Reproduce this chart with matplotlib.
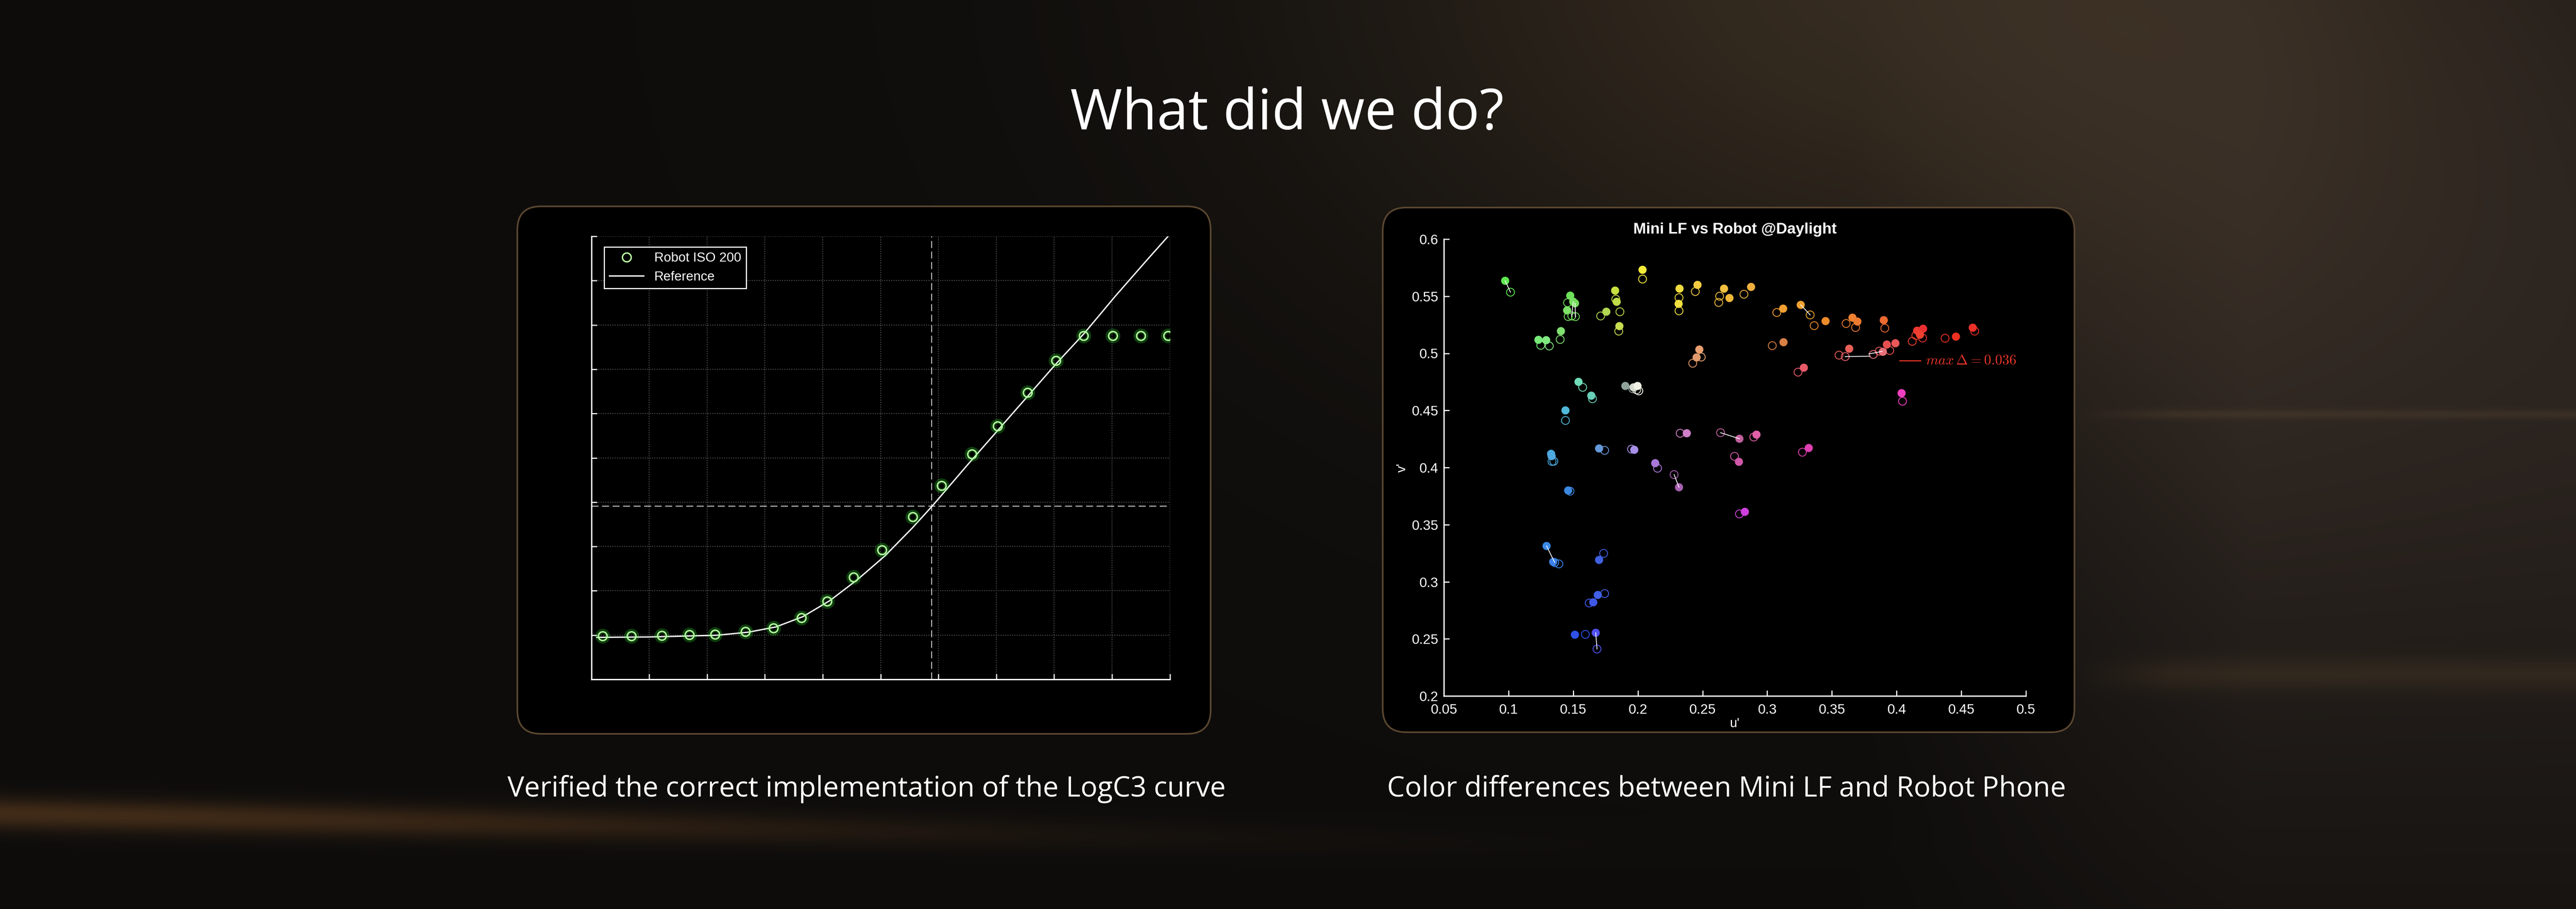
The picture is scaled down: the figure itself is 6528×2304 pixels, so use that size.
import numpy as np
import matplotlib
matplotlib.use("Agg")
from matplotlib import pyplot as plt
from matplotlib.patches import FancyBboxPatch
from matplotlib.lines import Line2D

plt.rcParams["font.family"] = ["Liberation Sans", "DejaVu Sans"]
plt.rcParams["mathtext.fontset"] = "cm"

# ---- left chart: LogC3 check (no tick labels in the original) ----
logc_x = [0.196, 0.689, 1.214, 1.691, 2.138, 2.662, 3.148, 3.633, 4.072, 4.534, 5.020,
          5.552, 6.053, 6.578, 7.024, 7.541, 8.034, 8.512, 9.013, 9.499, 9.969]
logc_y = [0.981, 0.981, 0.988, 1.004, 1.019, 1.074, 1.160, 1.385, 1.767, 2.304, 2.918,
          3.665, 4.374, 5.082, 5.720, 6.475, 7.198, 7.759, 7.759, 7.759, 7.759]
ref_x = [0.094, 0.995, 2.169, 2.717, 3.187, 3.657, 4.127, 4.597, 5.067, 5.536,
         5.889, 6.476, 7.024, 7.651, 8.042, 8.512, 9.060, 9.608, 9.969]
ref_y = [0.949, 0.957, 0.996, 1.066, 1.183, 1.416, 1.782, 2.249, 2.778, 3.401,
         3.907, 4.802, 5.619, 6.553, 7.136, 7.798, 8.654, 9.471, 10.0]
mid_x = 5.88
mid_y = 3.91

# ---- right chart: u'v' pairs (filled = one camera, open = the other) ----
filled_u = [0.0974, 0.1477, 0.1500, 0.1514, 0.1453, 0.1231, 0.1291, 0.1405,
            0.1824, 0.1836, 0.1756, 0.1857,
            0.2036, 0.2322, 0.2315, 0.2461, 0.2666, 0.2708, 0.2875,
            0.3259, 0.3123, 0.3451, 0.3659, 0.3697, 0.3901,
            0.4159, 0.4205, 0.4181, 0.4459, 0.4589,
            0.3126, 0.2475, 0.2454,
            0.3634, 0.3925, 0.3991, 0.3894, 0.3283, 0.4039,
            0.1903, 0.1966, 0.1997,
            0.1541, 0.1640, 0.1440, 0.1329, 0.1333, 0.1461, 0.1700, 0.1972,
            0.2134, 0.2318, 0.2378, 0.2785, 0.2917, 0.2781, 0.3321, 0.2827,
            0.1294, 0.1345, 0.1700, 0.1690, 0.1655, 0.1513, 0.1674]
filled_v = [0.5635, 0.5505, 0.5452, 0.5438, 0.5376, 0.5118, 0.5115, 0.5194,
            0.5549, 0.5451, 0.5364, 0.5238,
            0.5731, 0.5566, 0.5433, 0.5599, 0.5566, 0.5484, 0.5581,
            0.5424, 0.5391, 0.5282, 0.5312, 0.5278, 0.5290,
            0.5198, 0.5215, 0.5163, 0.5146, 0.5224,
            0.5097, 0.5033, 0.4964,
            0.5040, 0.5077, 0.5088, 0.5013, 0.4874, 0.4651,
            0.4714, 0.4702, 0.4714,
            0.4750, 0.4629, 0.4500, 0.4120, 0.4100, 0.3799, 0.4167, 0.4155,
            0.4038, 0.3827, 0.4300, 0.4252, 0.4288, 0.4050, 0.4171, 0.3612,
            0.3313, 0.3174, 0.3191, 0.2884, 0.2820, 0.2536, 0.2553]
open_u = [0.1015, 0.1456, 0.1489, 0.1517, 0.1461, 0.1249, 0.1315, 0.1399,
          0.1829, 0.1861, 0.1712, 0.1852,
          0.2036, 0.2318, 0.2318, 0.2444, 0.2632, 0.2625, 0.2820,
          0.3332, 0.3074, 0.3363, 0.3610, 0.3683, 0.3909,
          0.4149, 0.4201, 0.4121, 0.4375, 0.4604,
          0.3039, 0.2490, 0.2424,
          0.3555, 0.3947, 0.3866, 0.3820, 0.3238, 0.4046,
          0.1960, 0.1990, 0.2007,
          0.1573, 0.1649, 0.1440, 0.1336, 0.1350, 0.1475, 0.1743, 0.1951,
          0.2152, 0.2280, 0.2327, 0.2639, 0.2896, 0.2747, 0.3272, 0.2785,
          0.1357, 0.1389, 0.1735, 0.1743, 0.1624, 0.1594, 0.1684]
open_v = [0.5535, 0.5443, 0.5327, 0.5321, 0.5322, 0.5070, 0.5064, 0.5121,
          0.5474, 0.5364, 0.5327, 0.5194,
          0.5650, 0.5487, 0.5372, 0.5541, 0.5500, 0.5445, 0.5517,
          0.5336, 0.5357, 0.5242, 0.5261, 0.5226, 0.5220,
          0.5157, 0.5134, 0.5105, 0.5132, 0.5194,
          0.5067, 0.4967, 0.4913,
          0.4984, 0.5025, 0.5019, 0.4990, 0.4835, 0.4581,
          0.4690, 0.4680, 0.4671,
          0.4702, 0.4602, 0.4412, 0.4053, 0.4055, 0.3793, 0.4150, 0.4161,
          0.3994, 0.3938, 0.4300, 0.4305, 0.4267, 0.4098, 0.4134, 0.3594,
          0.3168, 0.3156, 0.3248, 0.2896, 0.2814, 0.2539, 0.2411]
pair_colors = ["#5ee84f", "#6fe05a", "#78e060", "#72dc5a", "#7ee068", "#78e878", "#80e880", "#80e070",
               "#c8e040", "#c0dc48", "#b0d850", "#c8dc50",
               "#f5ec3a", "#f0dc40", "#f2e040", "#f5cc40", "#f2c040", "#f0b838", "#f0b040",
               "#f0a030", "#f0a030", "#ee8c2c", "#ee8030", "#ec7a30", "#ec6a30",
               "#ee3a30", "#ec3030", "#ee4030", "#ee3020", "#ec3028",
               "#d88045", "#e8a070", "#e0986c",
               "#e86058", "#e85050", "#e85858", "#e8707a", "#e85868", "#f040c0",
               "#8fa39a", "#d8dcd0", "#f2f2e6",
               "#70dcb8", "#68d0b8", "#50b8d8", "#48a8e0", "#50a8e0", "#3c88e0", "#6498d8", "#a890e8",
               "#a878d8", "#a860b0", "#d080c8", "#c0609c", "#e060a8", "#d058a8", "#e040b0", "#d040e0",
               "#3a88e8", "#3a80e8", "#4060e0", "#4060e8", "#4058e8", "#3050ea", "#5050f0"]
linked = [0, 2, 3, 19, 51, 53, 58, 64]
extra_open_u = [0.3603]
extra_open_v = [0.4971]
extra_open_c = ["#e86070"]
# segments of the largest difference
maxd_u = [[0.3603, 0.3796], [0.3785, 0.3889]]
maxd_v = [[0.4971, 0.4975], [0.4994, 0.5017]]
maxd_label = r"$max\,\Delta = 0.036$"

# ---- slide background ----
W, H = 6528, 2304
ys, xs = np.mgrid[0:H:4, 0:W:4].astype(float)
img = np.zeros(xs.shape + (3,))
img[:] = (0.055, 0.05, 0.045)
warm = np.exp(-((xs - 4900) / 1500) ** 2 - ((ys + 100) / 1000) ** 2)
img += warm[..., None] * np.array([0.16, 0.125, 0.085])
right = np.clip((xs - 4700) / 1000, 0, 1) * np.exp(-((ys - 1000) / 1300) ** 2)
img += right[..., None] * np.array([0.1, 0.08, 0.07])
ramp = np.clip((xs - 5250) / 250, 0, 1)
img += (np.exp(-((ys - 1048) / 12) ** 2) * ramp)[..., None] * np.array([0.06, 0.045, 0.025])
img += (np.exp(-((ys - 1708) / 40) ** 2) * ramp)[..., None] * np.array([0.06, 0.045, 0.02])
low = np.exp(-((ys - 2060 - 0.02 * xs) / 40) ** 2) * np.exp(-(xs / 2200) ** 2)
img += low[..., None] * np.array([0.2, 0.12, 0.05])
img = np.clip(img, 0, 1)

fig = plt.figure(figsize=(32.64, 11.52), dpi=200)
bg = fig.add_axes([0, 0, 1, 1])
bg.imshow(img, extent=(0, W, H, 0), aspect="auto", interpolation="bilinear")
bg.set_xlim(0, W)
bg.set_ylim(H, 0)
bg.axis("off")
for x0, y0, x1, y1 in [(1311, 523, 3068, 1860), (3504, 526, 5257, 1856)]:
    bg.add_patch(FancyBboxPatch((x0, y0), x1 - x0, y1 - y0,
                                boxstyle="round,pad=0,rounding_size=60",
                                fc="black", ec="#5a4630", lw=1.5))
bg.text(3262, 328, "What did we do?", ha="center", va="baseline",
        fontsize=51.5, color="white", family=["Open Sans", "DejaVu Sans"])
bg.text(2196, 2019, "Verified the correct implementation of the LogC3 curve",
        ha="center", va="baseline", fontsize=25.6, color="white",
        family=["Open Sans", "DejaVu Sans"])
bg.text(4375, 2019, "Color differences between Mini LF and Robot Phone",
        ha="center", va="baseline", fontsize=25.6, color="white",
        family=["Open Sans", "DejaVu Sans"])

# ---- left chart ----
ax1 = fig.add_axes([1498.6 / W, 1 - 1722 / H, 1466 / W, 1123 / H])
ax1.set_facecolor("black")
ax1.set_xlim(0, 10)
ax1.set_ylim(0, 10)
ax1.set_xticks(range(11))
ax1.set_yticks(range(11))
ax1.set_xticklabels([])
ax1.set_yticklabels([])
ax1.tick_params(direction="in", length=5, width=1, color="white")
ax1.grid(True, color="#5a5a5a", linestyle=":", linewidth=0.8)
for side in ["top", "right"]:
    ax1.spines[side].set_visible(False)
for side in ["left", "bottom"]:
    ax1.spines[side].set_color("white")
    ax1.spines[side].set_linewidth(1.2)
ax1.axhline(mid_y, color="#cfcfcf", lw=0.8, ls=(0, (8, 4)))
ax1.axvline(mid_x, color="#cfcfcf", lw=0.8, ls=(0, (8, 4)))
ax1.plot(ref_x, ref_y, color="white", lw=1.2, zorder=3)
ax1.plot(logc_x, logc_y, "o", ms=9, mfc="none", mec="#39ff39", mew=4.5, alpha=0.25, zorder=4)
ax1.plot(logc_x, logc_y, "o", ms=8, mfc="none", mec="#b8fca0", mew=1.3, zorder=5)
handles = [Line2D([], [], marker="o", ls="none", ms=8, mfc="none", mec="#b8fca0", mew=1.3),
           Line2D([], [], color="white", lw=1.2)]
leg = ax1.legend(handles, ["Robot ISO 200", "Reference"], loc="upper left",
                 bbox_to_anchor=(0.022, 0.976), borderaxespad=0, fontsize=12,
                 fancybox=False, framealpha=1, facecolor="black", edgecolor="white",
                 labelcolor="white", handlelength=2.6)
leg.get_frame().set_linewidth(1.0)

# ---- right chart ----
ax2 = fig.add_axes([3659 / W, 1 - 1764 / H, 1475 / W, 1158 / H])
ax2.set_facecolor("black")
ax2.set_xlim(0.05, 0.5)
ax2.set_ylim(0.2, 0.6)
xt = [0.05, 0.1, 0.15, 0.2, 0.25, 0.3, 0.35, 0.4, 0.45, 0.5]
yt = [0.2, 0.25, 0.3, 0.35, 0.4, 0.45, 0.5, 0.55, 0.6]
ax2.set_xticks(xt)
ax2.set_xticklabels([f"{t:g}" for t in xt])
ax2.set_yticks(yt)
ax2.set_yticklabels([f"{t:g}" for t in yt])
ax2.tick_params(direction="in", length=5, width=1, color="white", labelcolor="white",
                labelsize=12.5)
ax2.tick_params(axis="x", pad=7)
ax2.tick_params(axis="y", pad=5)
for side in ["top", "right"]:
    ax2.spines[side].set_visible(False)
for side in ["left", "bottom"]:
    ax2.spines[side].set_color("white")
    ax2.spines[side].set_linewidth(1.2)
ax2.set_xlabel("u'", color="white", fontsize=12, labelpad=1)
ax2.set_ylabel("v'", color="white", fontsize=12, labelpad=3)
ax2.set_title("Mini LF vs Robot @Daylight", color="white", fontsize=14,
              fontweight="bold", pad=5)

ax2.scatter(open_u, open_v, s=52, facecolors="none", edgecolors=pair_colors,
            linewidths=0.75, zorder=3)
ax2.scatter(extra_open_u, extra_open_v, s=52, facecolors="none", edgecolors=extra_open_c,
            linewidths=0.75, zorder=3)
ax2.scatter(filled_u, filled_v, s=55, c=pair_colors, edgecolors="none", zorder=4)
for i in linked:
    ax2.plot([filled_u[i], open_u[i]], [filled_v[i], open_v[i]], color="white", lw=0.7, zorder=5)
for su, sv in zip(maxd_u, maxd_v):
    ax2.plot(su, sv, color="white", lw=0.7, zorder=5)
ax2.plot([0.4023, 0.4186], [0.4936, 0.4936], color="#e8352a", lw=1.0)
ax2.text(0.4225, 0.4936, maxd_label, color="#e8352a", fontsize=13, va="center", ha="left")

fig.savefig("out.png", dpi=200)
